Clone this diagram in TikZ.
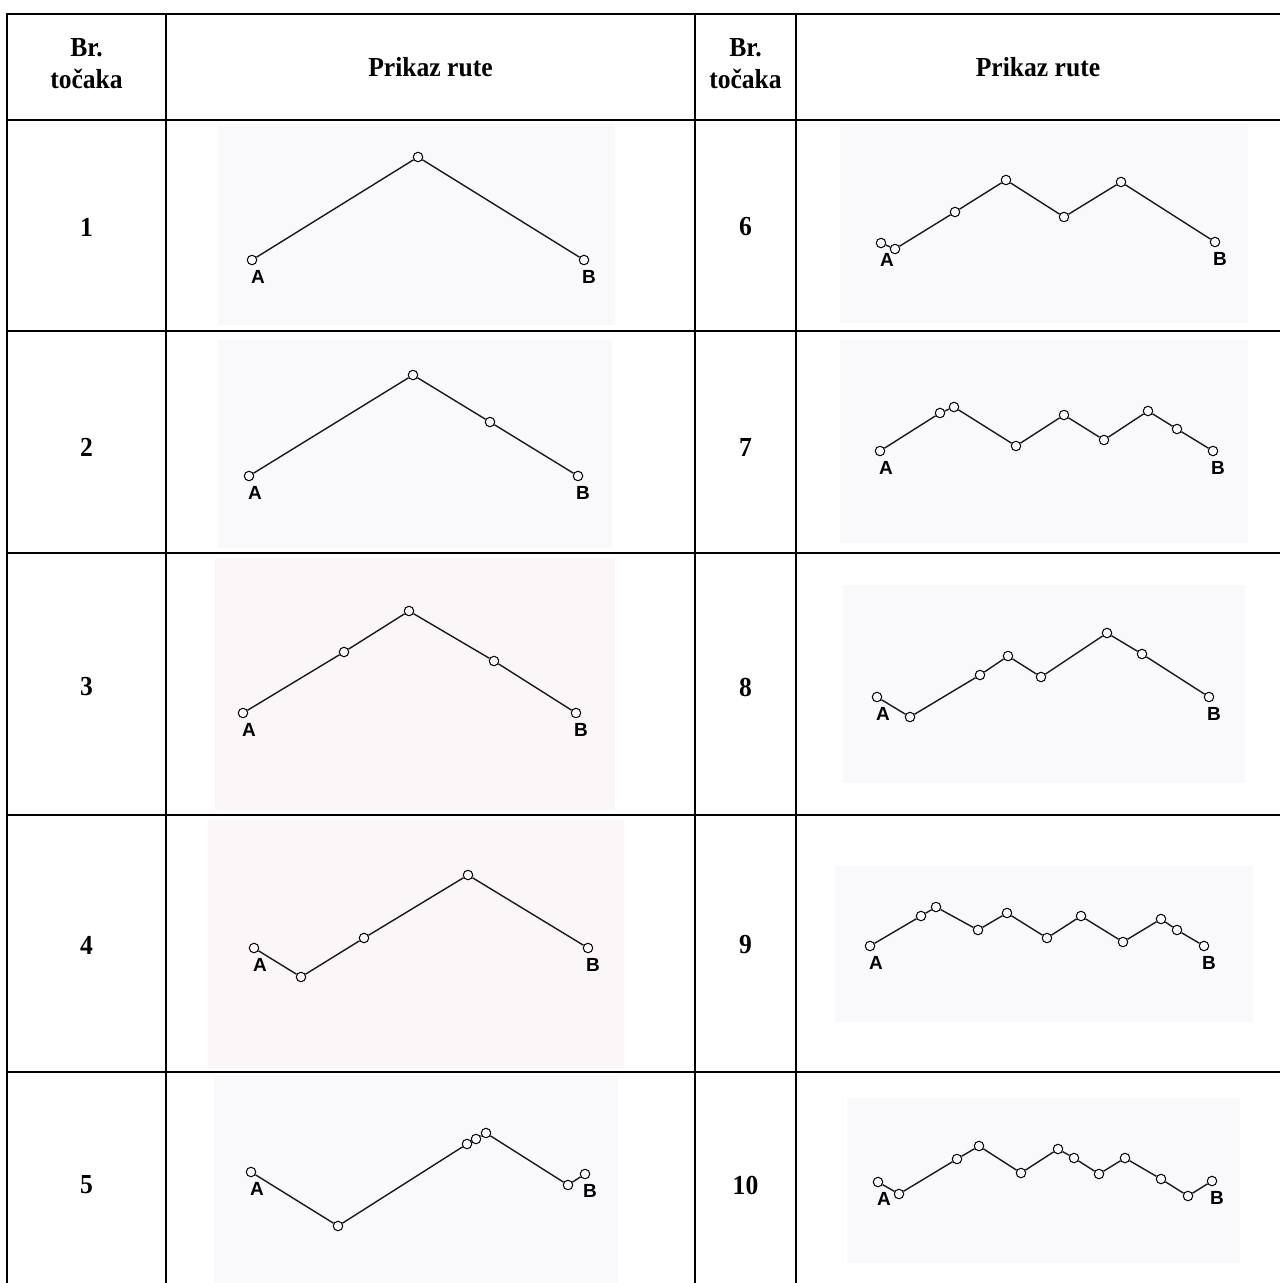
\documentclass[tikz,border=0pt]{standalone}
\usepackage{fontspec}
\setmainfont{Liberation Serif}
\newfontfamily\lblfont{Liberation Sans}
\newfontfamily\hdrfont[FakeStretch=0.93]{Liberation Serif}
\definecolor{panelgray}{HTML}{F9F9FB}
\definecolor{panelpink}{HTML}{FBF7F9}
\tikzset{
  gridline/.style={line width=2.5pt, line cap=rect},
  hdr/.style={font=\hdrfont\bfseries\fontsize{27.5}{32}\selectfont, align=center, inner sep=0pt},
  num/.style={font=\hdrfont\bfseries\fontsize{27.5}{32}\selectfont, inner sep=0pt},
  pt/.style={circle, draw=black, line width=1pt, inner sep=0pt, minimum size=9.5pt},
  route/.style={line width=1.4pt, draw=black!90},
  lbl/.style={font=\lblfont\bfseries\fontsize{19}{19}\selectfont, inner sep=0pt},
}
\newcommand\mkroute[3]{%
  \foreach \p [count=\k, remember=\k as \j (initially 0)] in {#2}{%
    \node[pt] (#1-\k) at (\p) {};
    \ifnum\k>1 \draw[route] (#1-\j) -- (#1-\k);\fi
  }%
  \node[lbl] (#1-labA) at ([shift={(6,17)}]#1-1.center) {A};
  \node[lbl] (#1-labB) at ([shift={(5,17)}]#1-#3.center) {B};
}
\begin{document}
\begin{tikzpicture}[x=1pt,y=-1pt]
\useasboundingbox (0,0) rectangle (1280,1283);
\fill[white] (0,0) rectangle (1280,1283);
% panels
\fill[panelgray] (218,124) rectangle (615,325);
\fill[panelgray] (840,123) rectangle (1248,323);
\fill[panelgray] (218,340) rectangle (612,548);
\fill[panelgray] (840,340) rectangle (1248,543);
\fill[panelpink] (215,558) rectangle (615,810);
\fill[panelgray] (843,585) rectangle (1245,783);
\fill[panelpink] (208,820) rectangle (624,1068);
\fill[panelgray] (835,866) rectangle (1253,1022);
\fill[panelgray] (214,1075) rectangle (618,1283);
\fill[panelgray] (847,1098) rectangle (1240,1263);
% grid
\foreach \y in {14,120,331,553,815,1072} \draw[gridline] (7,\y) -- (1280,\y);
\foreach \x in {7,166,695,796} \draw[gridline] (\x,14) -- (\x,1283);
% headers
\node[hdr] (h1) at (86.5,64) {Br.\\to\v{c}aka};
\node[hdr] (h2) at (430.5,67) {Prikaz rute};
\node[hdr] (h3) at (745.5,64) {Br.\\to\v{c}aka};
\node[hdr] (h4) at (1038,67) {Prikaz rute};
% numbers
\node[num] (n1) at (86.5,227) {1};
\node[num] (n2) at (86.5,447) {2};
\node[num] (n3) at (86.5,687) {3};
\node[num] (n4) at (86.5,945) {4};
\node[num] (n5) at (86.5,1185) {5};
\node[num] (n6) at (745.5,227) {6};
\node[num] (n7) at (745.5,447) {7};
\node[num] (n8) at (745.5,687) {8};
\node[num] (n9) at (745.5,945) {9};
\node[num] (n10) at (745.5,1185) {10};
% routes
\mkroute{r1}{{252,260},{418,157},{584,260}}{3}
\mkroute{r2}{{249,476},{413,375},{490,422},{578,476}}{4}
\mkroute{r3}{{243,713},{344,652},{409,611},{494,661},{576,713}}{5}
\mkroute{r4}{{254,948},{301,977},{364,938},{468,875},{588,948}}{5}
\mkroute{r5}{{251,1172},{338,1226},{467,1144},{476,1139},{486,1133},{568,1185},{585,1174}}{7}
\mkroute{r6}{{881,243},{895,249},{955,212},{1006,180},{1064,217},{1121,182},{1215,242}}{7}
\mkroute{r7}{{880,451},{940,413},{954,407},{1016,446},{1064,415},{1104,440},{1148,411},{1177,429},{1213,451}}{9}
\mkroute{r8}{{877,697},{910,717},{980,675},{1008,656},{1041,677},{1107,633},{1142,654},{1209,697}}{8}
\mkroute{r9}{{870,946},{921,916},{936,907},{978,930},{1007,913},{1047,938},{1081,916},{1123,942},{1161,919},{1177,930},{1204,946}}{11}
\mkroute{r10}{{878,1182},{899,1194},{957,1159},{979,1146},{1021,1173},{1058,1149},{1074,1158},{1099,1174},{1125,1158},{1161,1179},{1188,1196},{1212,1181}}{12}
\end{tikzpicture}
\end{document}
